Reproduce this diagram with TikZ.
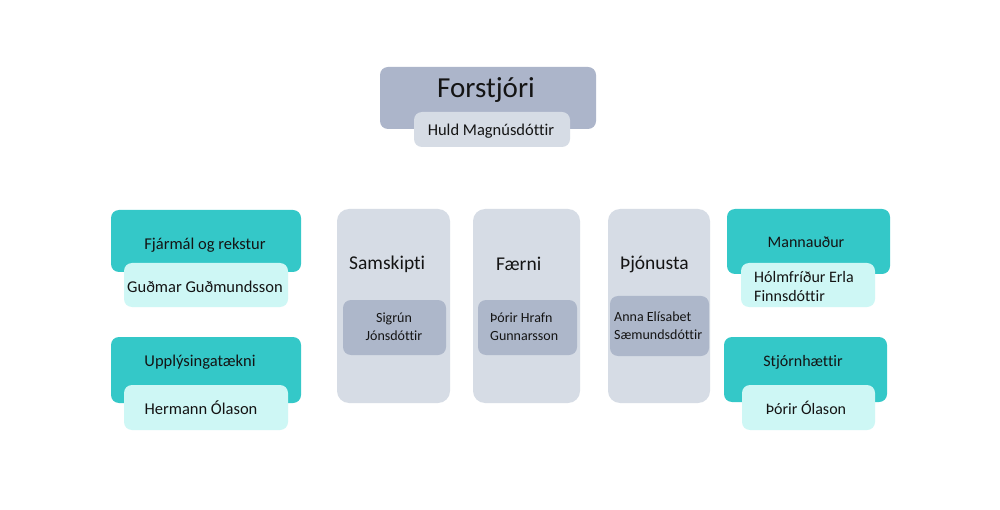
\documentclass[tikz,border=0pt]{standalone}
\usepackage{fontspec}
\setmainfont{Carlito}[Ligatures={NoCommon}]
\definecolor{tealbox}{RGB}{52,200,200}
\definecolor{cyanbox}{RGB}{206,247,245}
\definecolor{slatebox}{RGB}{172,181,202}
\definecolor{palebox}{RGB}{214,220,229}
\definecolor{innerbox}{RGB}{173,183,202}
\definecolor{txt}{RGB}{20,20,20}
\begin{document}
\begin{tikzpicture}[x=1pt,y=-1pt,
  box/.style={rounded corners=8pt, inner sep=0pt, outer sep=0pt},
  dept/.style={box, fill=tealbox},
  person/.style={box, fill=cyanbox},
  column/.style={box, fill=palebox, rounded corners=12pt},
  inner/.style={box, fill=innerbox},
  lbl/.style={text=txt, font=\fontsize{16.5}{19}\selectfont, inner sep=0pt, align=center},
  lbll/.style={lbl, align=left, anchor=west},
  small/.style={font=\fontsize{14}{18}\selectfont},
  mid/.style={font=\fontsize{16}{19}\selectfont},
  big/.style={text=txt, font=\fontsize{19.5}{22}\selectfont, inner sep=0pt, anchor=west},
]
\useasboundingbox (0,0) rectangle (1000,510);
\fill[white] (0,0) rectangle (1000,510);

% top
\fill[box, fill=slatebox] (380,67) rectangle (596,129);
\node[lbl, font=\fontsize{29}{32}\selectfont] (ceo) at (486,90) {Forstjóri};
\fill[box, fill=palebox] (414,112) rectangle (570,147);
\node[lbl] (ceoname) at (491,131) {Huld Magnúsdóttir};

% left
\fill[dept] (111,210) rectangle (301,272);
\node[lbl] (fin) at (205,245) {Fjármál og rekstur};
\fill[person] (124,263) rectangle (288,307);
\node[lbl] (finname) at (205,287) {Guðmar Guðmundsson};

\fill[dept] (111,337) rectangle (301,403);
\node[lbl] (it) at (200,362) {Upplýsingatækni};
\fill[person] (124,385) rectangle (288,430);
\node[lbl] (itname) at (201,408) {Hermann Ólason};

% columns
\fill[column] (337,209) rectangle (450,403);
\node[big] (sam) at (349,264) {Samskipti};
\fill[inner] (343,300) rectangle (446,355);
\node[lbl, small] (samname) at (394,327) {Sigrún\\Jónsdóttir};

\fill[column] (473,209) rectangle (580,403);
\node[big] (faer) at (496,264) {Færni};
\fill[inner] (478,300) rectangle (577,355);
\node[lbll, small] (faername) at (490,327) {Þórir Hrafn\\Gunnarsson};

\fill[column] (608,209) rectangle (710,403);
\node[big] (thj) at (620,264) {Þjónusta};
\fill[inner] (610,296) rectangle (709,356);
\node[lbll, small] (thjname) at (614,326) {Anna Elísabet\\Sæmundsdóttir};

% right
\fill[dept] (727,209) rectangle (890,274);
\node[lbl, mid] (mann) at (806,242) {Mannauður};
\fill[person] (741,263) rectangle (875,307);
\node[lbll, mid] (mannname) at (754,287) {Hólmfríður Erla\\Finnsdóttir};

\fill[dept] (724,337) rectangle (887,402);
\node[lbl, mid] (stj) at (803,362) {Stjórnhættir};
\fill[person] (742,385) rectangle (875,430);
\node[lbl, mid] (stjname) at (806,408) {Þórir Ólason};
\end{tikzpicture}
\end{document}
